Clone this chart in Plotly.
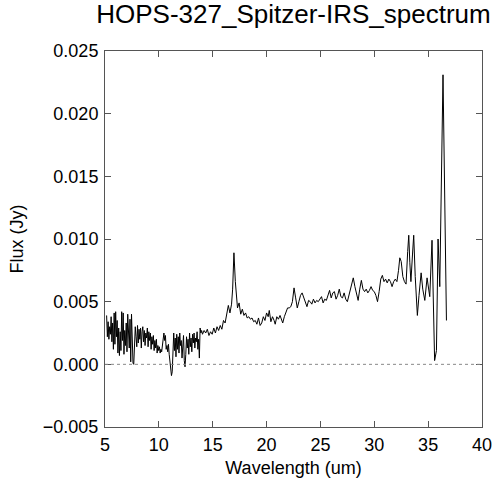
import plotly.graph_objects as go

# Short-wavelength module (noisy part)
wavelength_sl = [
    5.15, 5.22, 5.29, 5.36, 5.43, 5.50, 5.57, 5.64, 5.71, 5.78,
    5.85, 5.92, 5.99, 6.06, 6.13, 6.20, 6.27, 6.34, 6.41, 6.48,
    6.55, 6.62, 6.69, 6.76, 6.83, 6.90, 6.97, 7.04, 7.11, 7.18,
    7.25, 7.32, 7.39, 7.46, 7.53, 7.60, 7.67, 7.74, 7.81, 7.88,
    7.95, 8.02, 8.09, 8.16, 8.23, 8.30, 8.37, 8.44, 8.51, 8.58,
    8.65, 8.72, 8.79, 8.86, 8.93, 9.00, 9.07, 9.14, 9.21, 9.28,
    9.35, 9.42, 9.49, 9.56, 9.63, 9.70, 9.77, 9.84, 9.91, 9.98,
    10.05, 10.12, 10.19, 10.26, 10.33, 10.40, 10.47, 10.54, 10.61, 10.68,
    10.75, 10.82, 10.89, 10.96, 11.03, 11.10, 11.17, 11.24, 11.31, 11.38,
    11.45, 11.52, 11.59, 11.66, 11.73, 11.80, 11.87, 11.94, 12.01, 12.08,
    12.15, 12.22, 12.29, 12.36, 12.43, 12.50, 12.57, 12.64, 12.71, 12.78,
    12.85, 12.92, 12.99, 13.06, 13.13, 13.20, 13.27, 13.34, 13.41, 13.48,
    13.55, 13.62, 13.69, 13.76, 13.83, 13.90, 13.97,
]
flux_sl = [
    0.0039, 0.0022, 0.0034, 0.0020, 0.0030, 0.0024, 0.0038, 0.0018, 0.0033, 0.0012,
    0.0041, 0.0016, 0.0042, 0.0022, 0.0035, 0.0009, 0.0029, 0.0007, 0.0026, 0.0011,
    0.0042, 0.0019, 0.0041, 0.0008, 0.0027, 0.0015, 0.0033, 0.0010, 0.0040, 0.0021,
    0.0013, 0.0036, 0.0002, 0.0040, 0.0012, 0.0001, 0.0000, 0.0018, 0.0030, 0.0022,
    0.0014, 0.0031, 0.0017, 0.0028, 0.0020, 0.0029, 0.0013, 0.0026, 0.0030, 0.0018,
    0.0027, 0.0015, 0.0025, 0.0021, 0.0029, 0.0014, 0.0026, 0.0019, 0.0025, 0.0012,
    0.0022, 0.0016, 0.0023, 0.0011, 0.0019, 0.0013, 0.0020, 0.0009, 0.0015, 0.0011,
    0.0014, 0.0009, 0.0012, 0.0010, 0.0016, 0.0021, 0.0025, 0.0019, 0.0023, 0.0012,
    0.0015, 0.0010, 0.0016, 0.0008, 0.0003, -0.0004, -0.0009, -0.0006, 0.0008, 0.0025,
    0.0011, 0.0021, 0.0006, 0.0024, 0.0012, 0.0022, 0.0009, 0.0025, 0.0015, 0.0019,
    0.0005, 0.0018, 0.0023, 0.0003, -0.0002, 0.0008, 0.0022, 0.0013, 0.0020, 0.0008,
    0.0025, 0.0014, 0.0021, 0.0010, 0.0024, 0.0017, 0.0025, 0.0013, 0.0021, 0.0018,
    0.0026, 0.0012, 0.0020, 0.0005, 0.0029, 0.0025, 0.0027,
]

# Long-wavelength module
wavelength_ll = [
    14.05, 14.20, 14.35, 14.50, 14.65, 14.80, 14.95, 15.10, 15.25, 15.40,
    15.55, 15.70, 15.85, 16.00, 16.15, 16.30, 16.45, 16.60, 16.75, 16.85,
    16.97, 17.10, 17.20, 17.30, 17.45, 17.60, 17.75, 17.90, 18.05, 18.20,
    18.35, 18.50, 18.65, 18.80, 18.95, 19.10, 19.25, 19.40, 19.55, 19.70,
    19.85, 20.00, 20.15, 20.25, 20.40, 20.55, 20.70, 20.80, 20.95, 21.10,
    21.25, 21.40, 21.50, 21.65, 21.80, 21.95, 22.10, 22.25, 22.40, 22.55,
    22.70, 22.85, 23.00, 23.15, 23.30, 23.45, 23.60, 23.75, 23.90, 24.05,
    24.20, 24.35, 24.50, 24.65, 24.80, 24.95, 25.10, 25.25, 25.40, 25.55,
    25.70, 25.85, 26.00, 26.15, 26.30, 26.45, 26.60, 26.75, 26.90, 27.05,
    27.20, 27.35, 27.50, 27.65, 27.80, 27.95, 28.05, 28.20, 28.35, 28.50,
    28.65, 28.80, 28.95, 29.10, 29.25, 29.40, 29.55, 29.70, 29.85, 30.00,
    30.15, 30.30, 30.45, 30.60, 30.75, 30.90, 31.05, 31.20, 31.35, 31.50,
    31.65, 31.80, 31.95, 32.10, 32.25, 32.37, 32.50, 32.65, 32.80, 32.95,
    33.10, 33.20, 33.30, 33.40, 33.55, 33.66, 33.80, 34.00, 34.15, 34.35,
    34.50, 34.69, 34.90, 35.05, 35.15, 35.36, 35.60, 35.77, 35.92, 36.08,
    36.38, 36.70,
]
flux_ll = [
    0.0024, 0.0027, 0.0025, 0.0028, 0.0023, 0.0026, 0.0024, 0.0029, 0.0025, 0.0030,
    0.0027, 0.0031, 0.0028, 0.0035, 0.0033, 0.0040, 0.0047, 0.0041, 0.0048, 0.0060,
    0.0089, 0.0066, 0.0052, 0.0045, 0.0049, 0.0040, 0.0044, 0.0039, 0.0041, 0.0037,
    0.0038, 0.0036, 0.0037, 0.0034, 0.0035, 0.0032, 0.0037, 0.0031, 0.0033, 0.0038,
    0.0035, 0.0041, 0.0038, 0.0043, 0.0034, 0.0038, 0.0035, 0.0032, 0.0038, 0.0036,
    0.0039, 0.0035, 0.0033, 0.0038, 0.0042, 0.0045, 0.0045, 0.0046, 0.0050, 0.0061,
    0.0053, 0.0045, 0.0050, 0.0055, 0.0057, 0.0053, 0.0049, 0.0046, 0.0051, 0.0050,
    0.0048, 0.0052, 0.0049, 0.0051, 0.0050, 0.0052, 0.0054, 0.0049, 0.0052, 0.0051,
    0.0055, 0.0059, 0.0053, 0.0057, 0.0058, 0.0052, 0.0055, 0.0060, 0.0054, 0.0053,
    0.0057, 0.0052, 0.0050, 0.0055, 0.0060, 0.0064, 0.0069, 0.0062, 0.0057, 0.0051,
    0.0060, 0.0067, 0.0060, 0.0058, 0.0060, 0.0057, 0.0059, 0.0062, 0.0059, 0.0058,
    0.0055, 0.0050, 0.0058, 0.0068, 0.0071, 0.0066, 0.0068, 0.0065, 0.0068, 0.0066,
    0.0062, 0.0066, 0.0068, 0.0066, 0.0075, 0.0085, 0.0082, 0.0070, 0.0066, 0.0064,
    0.0090, 0.0103, 0.0081, 0.0066, 0.0088, 0.0103, 0.0070, 0.0039, 0.0055, 0.0073,
    0.0060, 0.0051, 0.0069, 0.0060, 0.0054, 0.0099, 0.0003, 0.0011, 0.0100, 0.0062,
    0.0231, 0.0035,
]

x_ticks = [5, 10, 15, 20, 25, 30, 35, 40]
y_ticks = [-0.005, 0.000, 0.005, 0.010, 0.015, 0.020, 0.025]

wavelength = wavelength_sl + wavelength_ll
flux = flux_sl + flux_ll

fig = go.Figure()
fig.add_trace(go.Scatter(
    x=wavelength, y=flux, mode="lines",
    line=dict(color="black", width=1),
    showlegend=False,
))

# dotted zero level
fig.add_shape(
    type="line", xref="paper", yref="y",
    x0=0, x1=1, y0=0, y1=0,
    line=dict(color="#888888", width=1, dash="dot"),
)

axis_style = dict(
    showline=True, mirror="ticks", linecolor="#555555", linewidth=1,
    ticks="inside", ticklen=6, tickcolor="#555555",
    showgrid=False, zeroline=False, automargin=False,
    tickfont=dict(size=18, color="black"),
)

fig.update_layout(
    width=500, height=481,
    margin=dict(l=105, r=18, t=51, b=54),
    paper_bgcolor="white", plot_bgcolor="white",
    font=dict(family="Liberation Sans, Arial, sans-serif", color="black"),
    title=dict(
        text="HOPS-327_Spitzer-IRS_spectrum",
        x=0.5, xanchor="center", xref="paper",
        y=1 - 14 / 481, yanchor="middle", yref="container",
        font=dict(size=26),
    ),
)
fig.update_xaxes(
    range=[5, 40], tickvals=x_ticks, ticklabelstandoff=1,
    title=dict(text="Wavelength (um)", font=dict(size=18), standoff=7),
    **axis_style,
)
fig.update_yaxes(
    range=[-0.005, 0.025], tickvals=y_ticks, tickformat=".3f",
    ticklabelstandoff=2,
    title=dict(text="Flux (Jy)", font=dict(size=18), standoff=14),
    **axis_style,
)

# drop the page's default body margin so the figure sits at the top-left corner
fig.write_html(
    "out.html",
    config={"displayModeBar": False},
    post_script="document.body.style.margin='0';",
)
